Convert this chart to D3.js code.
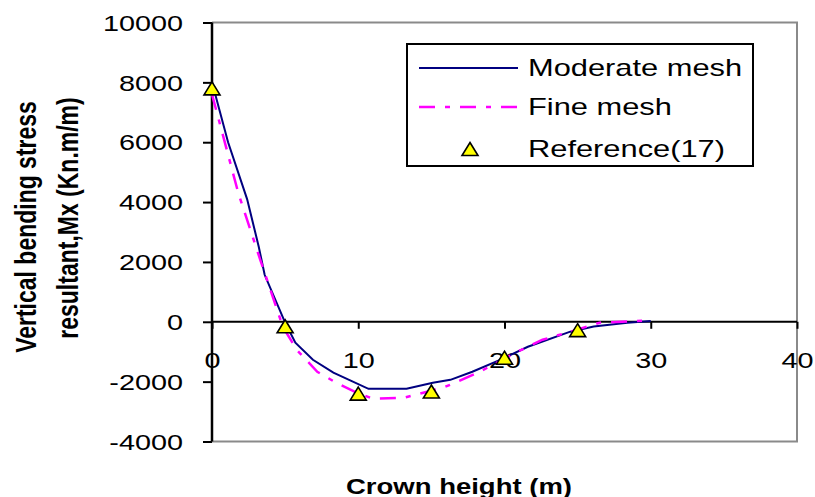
<!DOCTYPE html>
<html>
<head>
<meta charset="utf-8">
<script src="https://cdn.jsdelivr.net/npm/d3@7"></script>
<style>
  body { margin: 0; background: #fff; }
  text { font-family: "Liberation Sans", Arial, sans-serif; fill: #000; }
</style>
</head>
<body>
<div id="chart"></div>
<script>
// --- data ---
const moderateMesh = [
  [0, 8000], [1.1, 6000], [2.4, 4100], [3.2, 2500], [3.6, 1570], [5, -30],
  [5.7, -700], [6.9, -1270], [8.3, -1700], [10.7, -2240], [13.3, -2240],
  [15.1, -2040], [16.3, -1940], [17.8, -1670], [19.7, -1270], [21.6, -835],
  [24.5, -330], [26.1, -160], [28.4, -30], [30, 30]
];
const fineMesh = [
  [0, 7600], [1.8, 4300], [3.3, 2070], [4.85, -170], [5.8, -940], [7.2, -1670],
  [8.5, -2040], [9.9, -2370], [11, -2570], [13.1, -2540], [15.8, -2200],
  [16.8, -2000], [18.3, -1670], [20.9, -1000], [22.6, -600], [24.5, -330],
  [26.5, -30], [30, 50]
];
const reference17 = [[0, 7800], [5, -150], [10, -2400], [15, -2330], [20, -1200], [25, -280]];

const xTicks = [0, 10, 20, 30, 40];
const yTicks = [-4000, -2000, 0, 2000, 4000, 6000, 8000, 10000];
const legendItems = ['Moderate mesh', 'Fine mesh', 'Reference(17)'];

// --- layout ---
const W = 815, H = 497;
const plotL = 212, plotR = 797, plotT = 22.5, plotB = 441.5;
const stretch = 1.31; // the original is drawn wider than tall
const plain = d => String(d);

const x = d3.scaleLinear().domain([0, 40]).range([plotL, plotR]);
const y = d3.scaleLinear().domain([-4000, 10000]).range([plotB, plotT]);

const svg = d3.select('#chart').append('svg')
  .attr('width', W).attr('height', H);

// plot frame (grey on top, right, bottom)
svg.append('path')
  .attr('d', `M${plotL},${plotT} H${plotR} V${plotB} H${plotL}`)
  .attr('fill', 'none').attr('stroke', '#8a8a8a').attr('stroke-width', 2);

// y axis
const yAxis = svg.append('g')
  .attr('transform', `translate(${plotL},0)`)
  .call(d3.axisLeft(y).tickValues(yTicks).tickFormat(plain).tickSize(9).tickSizeOuter(0));
yAxis.select('.domain').remove();
yAxis.selectAll('.tick line').attr('stroke', '#000').attr('stroke-width', 2);
yAxis.selectAll('.tick text')
  .attr('x', 0).attr('dy', '0.35em')
  .attr('transform', `translate(-29,0) scale(${stretch},1)`)
  .style('font-size', '22px').attr('text-anchor', 'end');
svg.append('line')
  .attr('x1', plotL).attr('x2', plotL).attr('y1', plotT).attr('y2', plotB)
  .attr('stroke', '#000').attr('stroke-width', 2.5);

// x axis along zero line
const xAxis = svg.append('g')
  .attr('transform', `translate(0,${y(0)})`)
  .call(d3.axisBottom(x).tickValues(xTicks).tickFormat(plain).tickSize(7).tickSizeOuter(0));
xAxis.select('.domain').remove();
xAxis.selectAll('.tick line').attr('stroke', '#000').attr('stroke-width', 2);
xAxis.selectAll('.tick text')
  .attr('y', 46).attr('dy', 0)
  .attr('transform', `scale(${stretch},1)`)
  .style('font-size', '22px');
svg.append('line')
  .attr('x1', plotL).attr('x2', plotR).attr('y1', y(0)).attr('y2', y(0))
  .attr('stroke', '#000').attr('stroke-width', 2);

// series
const line = d3.line().x(d => x(d[0])).y(d => y(d[1]));
svg.append('path').datum(moderateMesh)
  .attr('d', line).attr('fill', 'none')
  .attr('stroke', '#000080').attr('stroke-width', 2);
svg.append('path').datum(fineMesh)
  .attr('d', line).attr('fill', 'none')
  .attr('stroke', '#ff00ff').attr('stroke-width', 2.5)
  .attr('stroke-dasharray', '16,10,5,10');

const tri = 'M0,-6.5L8,6.5L-8,6.5Z';
svg.selectAll('.ref').data(reference17).enter().append('path')
  .attr('class', 'ref')
  .attr('d', tri)
  .attr('transform', d => `translate(${x(d[0])},${y(d[1])})`)
  .attr('fill', '#ffff00').attr('stroke', '#000').attr('stroke-width', 1.6);

// legend
const legend = svg.append('g');
legend.append('rect')
  .attr('x', 407).attr('y', 44).attr('width', 346).attr('height', 122)
  .attr('fill', '#fff').attr('stroke', '#000').attr('stroke-width', 2);
const rowY = [68, 107, 149];
legend.append('line')
  .attr('x1', 419).attr('x2', 518).attr('y1', rowY[0]).attr('y2', rowY[0])
  .attr('stroke', '#000080').attr('stroke-width', 2);
legend.append('line')
  .attr('x1', 419).attr('x2', 518).attr('y1', rowY[1]).attr('y2', rowY[1])
  .attr('stroke', '#ff00ff').attr('stroke-width', 2.5)
  .attr('stroke-dasharray', '16,10,5,10');
legend.append('path')
  .attr('d', tri)
  .attr('transform', `translate(470,${rowY[2]})`)
  .attr('fill', '#ffff00').attr('stroke', '#000').attr('stroke-width', 1.6);
legend.selectAll('.lt').data(legendItems).enter().append('text')
  .attr('class', 'lt')
  .attr('transform', (d, i) => `translate(528,${rowY[i]}) scale(1.34,1)`)
  .attr('dy', '0.35em')
  .style('font-size', '23px')
  .text(d => d);

// axis titles
svg.append('text')
  .attr('transform', `translate(459,494) scale(1.25,1)`)
  .attr('text-anchor', 'middle')
  .style('font-size', '22px').style('font-weight', 'bold')
  .text('Crown height (m)');
svg.append('text')
  .attr('transform', `translate(36,227) scale(1.3,1) rotate(-90)`)
  .attr('text-anchor', 'middle')
  .style('font-size', '23px').style('font-weight', 'bold')
  .text('Vertical bending stress');
svg.append('text')
  .attr('transform', `translate(78,218) scale(1.3,1) rotate(-90)`)
  .attr('text-anchor', 'middle')
  .style('font-size', '23px').style('font-weight', 'bold')
  .text('resultant,Mx (Kn.m/m)');
</script>
</body>
</html>
